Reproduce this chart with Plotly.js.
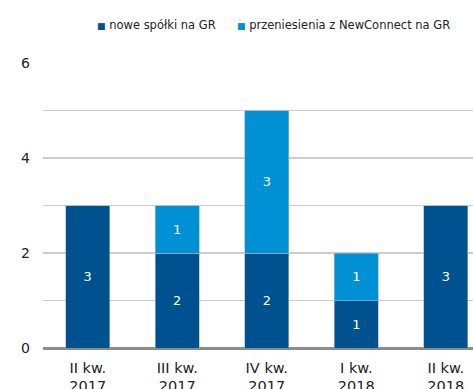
<!DOCTYPE html>
<html>
<head>
<meta charset="utf-8">
<script src="https://cdn.plot.ly/plotly-3.0.1.min.js"></script>
<style>
  html, body { margin: 0; padding: 0; background: #fff; }
  #chart { width: 473px; height: 389px; }
</style>
</head>
<body>
<div id="chart"></div>
<script>
// Quarterly debuts on the main market (GR)
const quarters = ['II kw.<br>2017', 'III kw.<br>2017', 'IV kw.<br>2017', 'I kw.<br>2018', 'II kw.<br>2018'];
const newListings = [3, 2, 2, 1, 3];
const transfersFromNC = [null, 1, 3, 1, null];
const seriesNames = ['nowe spółki na GR', 'przeniesienia z NewConnect na GR'];
const seriesColors = ['#00518f', '#0090d4'];
const yTicks = [0, 2, 4, 6];

const font = 'DejaVu Sans, Verdana, sans-serif';

function barTrace(values, i) {
  return {
    type: 'bar',
    x: quarters,
    y: values,
    name: seriesNames[i],
    marker: { color: seriesColors[i], line: { color: 'rgba(160,180,200,0.8)', width: 0.8 } },
    width: 0.49,
    text: values.map(v => v == null ? '' : String(v)),
    textposition: 'inside',
    insidetextanchor: 'middle',
    textangle: 0,
    textfont: { family: font, size: 13, color: '#ffffff' },
    hoverinfo: 'skip',
    showlegend: false
  };
}

const traces = [barTrace(newListings, 0), barTrace(transfersFromNC, 1)];

// Legend drawn as small coloured squares followed by series names
const legendX = [95, 235];
const annotations = seriesNames.map((name, i) => ({
  xref: 'paper', yref: 'paper',
  x: (legendX[i] - 43) / 430, y: (389 - 25 - 41) / 285,
  xanchor: 'left', yanchor: 'middle',
  showarrow: false,
  text: '<span style="color:' + seriesColors[i] + ';font-size:9px">■</span> ' + name,
  font: { family: font, size: 11.5, color: '#222222' }
}));

const layout = {
  width: 473, height: 389,
  margin: { l: 43, r: 0, t: 63, b: 41, pad: 0 },
  paper_bgcolor: '#ffffff', plot_bgcolor: '#ffffff',
  barmode: 'stack',
  showlegend: false,
  xaxis: {
    type: 'category',
    range: [-0.5, 4.304],
    showgrid: false, showline: false, zeroline: false,
    ticks: '',
    tickfont: { family: font, size: 14.5, color: '#222222' },
    ticklabelstandoff: 9
  },
  yaxis: {
    range: [0, 6],
    tickvals: yTicks,
    ticktext: yTicks.map(String),
    showgrid: true, gridcolor: '#cccccc', gridwidth: 1.5,
    minor: { dtick: 1, showgrid: true, gridcolor: '#cccccc', gridwidth: 1.5 },
    zeroline: true, zerolinecolor: '#8c8c8c', zerolinewidth: 3,
    showline: false, ticks: '',
    tickfont: { family: font, size: 14, color: '#222222' },
    ticklabelstandoff: 12
  },
  annotations: annotations
};

Plotly.newPlot('chart', traces, layout, { staticPlot: true, displayModeBar: false });
</script>
</body>
</html>
